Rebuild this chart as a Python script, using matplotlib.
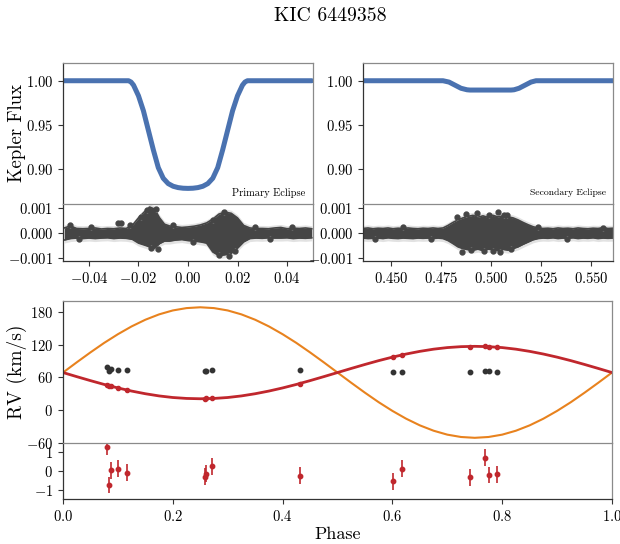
import matplotlib
matplotlib.use('Agg')
import matplotlib.pyplot as plt
from matplotlib.ticker import FormatStrFormatter

plt.rcParams['font.family'] = 'serif'
plt.rcParams['font.serif'] = ['cmr10']
plt.rcParams['mathtext.fontset'] = 'cm'
plt.rcParams['axes.formatter.use_mathtext'] = True
plt.rcParams['axes.unicode_minus'] = True

# ---- eclipse models (phase, flux)
prim_phase = [-0.050, -0.024, -0.023, -0.022, -0.020, -0.018, -0.016, -0.014, -0.012, -0.010,
              -0.008, -0.006, -0.004, -0.002, 0.000, 0.002, 0.004, 0.006, 0.008, 0.010,
              0.012, 0.014, 0.016, 0.018, 0.020, 0.022, 0.023, 0.024, 0.050]
prim_flux = [1.000, 1.000, 0.9985, 0.995, 0.983, 0.966, 0.944, 0.922, 0.902, 0.890,
             0.884, 0.881, 0.8795, 0.8788, 0.8786, 0.8788, 0.8795, 0.881, 0.884, 0.890,
             0.902, 0.922, 0.944, 0.966, 0.983, 0.995, 0.9985, 1.000, 1.000]

sec_phase = [0.436, 0.476, 0.479, 0.482, 0.485, 0.488, 0.4895, 0.510, 0.5115, 0.514,
             0.517, 0.520, 0.5225, 0.561]
sec_flux = [1.000, 1.000, 0.9985, 0.995, 0.9915, 0.9898, 0.9895, 0.9895, 0.9898, 0.9915,
            0.995, 0.9985, 1.000, 1.000]

# ---- residual envelopes (units of 1e-3)
pres_phase = [-0.050, -0.0475, -0.045, -0.0425, -0.040, -0.0375, -0.035, -0.0325, -0.030, -0.0275,
              -0.025, -0.0225, -0.020, -0.0175, -0.0155, -0.0135, -0.0115, -0.0095, -0.0075, -0.005,
              -0.0025, 0.000, 0.0025, 0.005, 0.0075, 0.010, 0.0125, 0.015, 0.0175, 0.020,
              0.0225, 0.025, 0.0275, 0.030, 0.0325, 0.035, 0.0375, 0.040, 0.0425, 0.045,
              0.0475, 0.050]
pres_hi = [0.20, 0.28, 0.18, 0.17, 0.18, 0.20, 0.16, 0.18, 0.17, 0.20,
           0.18, 0.30, 0.60, 0.85, 1.03, 0.95, 0.60, 0.35, 0.28, 0.25,
           0.22, 0.24, 0.27, 0.32, 0.40, 0.55, 0.75, 0.83, 0.78, 0.60,
           0.30, 0.20, 0.18, 0.18, 0.17, 0.20, 0.22, 0.17, 0.19, 0.18,
           0.20, 0.17]
pres_lo = [-0.28, -0.22, -0.20, -0.22, -0.20, -0.22, -0.20, -0.19, -0.22, -0.20,
           -0.21, -0.25, -0.40, -0.48, -0.55, -0.60, -0.42, -0.32, -0.32, -0.28,
           -0.26, -0.30, -0.32, -0.35, -0.40, -0.75, -0.90, -0.86, -0.80, -0.60,
           -0.35, -0.22, -0.20, -0.21, -0.19, -0.20, -0.20, -0.19, -0.22, -0.20,
           -0.21, -0.19]
pres_out_x = [-0.0475, -0.0440, -0.0390, -0.0284, -0.0272, -0.0236, -0.0190, -0.0165, -0.0150,
              -0.0128, -0.0122, -0.0060, 0.0020, 0.0100, 0.0125, 0.0145, 0.0165, 0.0190,
              0.0270, 0.0330, 0.0420]
pres_out_y = [0.30, -0.25, 0.24, 0.40, 0.40, 0.30, 0.65, 0.92, -0.58, 0.95, -0.65, 0.30, -0.34,
              0.50, -0.88, 0.85, -0.92, -0.70, 0.23, -0.24, 0.24]

sres_phase = [0.436, 0.4385, 0.441, 0.4435, 0.446, 0.4485, 0.451, 0.4535, 0.456, 0.4585,
              0.461, 0.4635, 0.466, 0.4685, 0.471, 0.4735, 0.476, 0.4785, 0.481, 0.4835,
              0.486, 0.4885, 0.491, 0.4935, 0.496, 0.4985, 0.501, 0.5035, 0.506, 0.5085,
              0.511, 0.5135, 0.516, 0.5185, 0.521, 0.5235, 0.526, 0.5285, 0.531, 0.5335,
              0.536, 0.5385, 0.541, 0.5435, 0.546, 0.5485, 0.551, 0.5535, 0.556, 0.5585,
              0.561]
sres_hi = [0.18, 0.20, 0.17, 0.19, 0.18, 0.20, 0.17, 0.19, 0.18, 0.20,
           0.18, 0.17, 0.19, 0.18, 0.20, 0.18, 0.20, 0.30, 0.42, 0.52,
           0.60, 0.66, 0.70, 0.63, 0.68, 0.62, 0.70, 0.64, 0.68, 0.64,
           0.60, 0.52, 0.42, 0.33, 0.25, 0.20, 0.18, 0.19, 0.17, 0.20,
           0.18, 0.19, 0.17, 0.20, 0.18, 0.17, 0.19, 0.18, 0.21, 0.18,
           0.19]
sres_lo = [-0.20, -0.22, -0.21, -0.20, -0.22, -0.19, -0.21, -0.22, -0.20, -0.21,
           -0.22, -0.20, -0.21, -0.20, -0.22, -0.20, -0.22, -0.30, -0.42, -0.55,
           -0.62, -0.66, -0.68, -0.64, -0.70, -0.64, -0.66, -0.70, -0.65, -0.68,
           -0.62, -0.55, -0.45, -0.36, -0.27, -0.22, -0.20, -0.21, -0.19, -0.22,
           -0.20, -0.21, -0.19, -0.22, -0.20, -0.21, -0.19, -0.22, -0.20, -0.21,
           -0.20]
sres_out_x = [0.4420, 0.4560, 0.4700, 0.4830, 0.4855, 0.4875, 0.4900, 0.4930, 0.4965, 0.4990,
              0.5010, 0.5035, 0.5045, 0.5065, 0.5080, 0.5100, 0.5233, 0.5380, 0.5560]
sres_out_y = [-0.24, 0.23, -0.25, 0.62, -0.75, 0.75, -0.68, 0.80, -0.72, 0.72,
              -0.70, 0.85, -0.75, 0.70, 0.72, -0.65, 0.25, -0.24, 0.20]
res_err = 0.12

# ---- radial velocities
rv_phase = [0.0793, 0.0836, 0.0872, 0.1009, 0.1160, 0.2580, 0.2600, 0.2716, 0.4308,
            0.6016, 0.6174, 0.7420, 0.7695, 0.7760, 0.7900]
rv_a = [47.0, 44.5, 44.5, 40.8, 37.1, 21.0, 21.6, 21.8, 48.2, 97.1, 100.8, 116.3, 117.2, 116.3, 115.0]
rv_a_res = [1.29, -0.75, 0.04, 0.12, -0.09, -0.30, -0.14, 0.25, -0.25, -0.55, 0.12, -0.34, 0.71, -0.21, -0.18]
rv_err = 0.45
rv_b = [78.5, 72.4, 75.4, 73.6, 73.6, 72.4, 72.4, 73.6, 74.2, 69.9, 70.5, 70.5, 71.1, 71.7, 69.9]

model_phase = [0.000, 0.025, 0.050, 0.075, 0.100, 0.125, 0.150, 0.175, 0.200, 0.225,
               0.250, 0.275, 0.300, 0.325, 0.350, 0.375, 0.400, 0.425, 0.450, 0.475,
               0.500, 0.525, 0.550, 0.575, 0.600, 0.625, 0.650, 0.675, 0.700, 0.725,
               0.750, 0.775, 0.800, 0.825, 0.850, 0.875, 0.900, 0.925, 0.950, 0.975,
               1.000]
model_a = [69.0, 61.5, 54.2, 47.2, 40.8, 35.1, 30.2, 26.2, 23.3, 21.6,
           21.0, 21.6, 23.3, 26.2, 30.2, 35.1, 40.8, 47.2, 54.2, 61.5,
           69.0, 76.5, 83.8, 90.8, 97.2, 102.9, 107.8, 111.8, 114.7, 116.4,
           117.0, 116.4, 114.7, 111.8, 107.8, 102.9, 97.2, 90.8, 83.8, 76.5,
           69.0]
model_b = [69.0, 87.7, 105.9, 123.3, 139.2, 153.5, 165.7, 175.5, 182.7, 187.0,
           188.5, 187.0, 182.7, 175.5, 165.7, 153.5, 139.2, 123.3, 105.9, 87.7,
           69.0, 50.3, 32.1, 14.7, -1.2, -15.5, -27.7, -37.5, -44.7, -49.0,
           -50.5, -49.0, -44.7, -37.5, -27.7, -15.5, -1.2, 14.7, 32.1, 50.3,
           69.0]

blue = '#4a72b0'
red = '#c0272d'
orange = '#e8821e'
dark = '#454545'
sep = '#8a8a8a'

W, H = 620.0, 544.0


def box(x0, x1, y0, y1):
    return [x0 / W, 1 - y1 / H, (x1 - x0) / W, (y1 - y0) / H]


def style(ax):
    for s in ['top', 'right']:
        ax.spines[s].set_color(sep)
    for s in ['left', 'bottom']:
        ax.spines[s].set_color('#333333')
    for s in ax.spines.values():
        s.set_linewidth(0.9)
    ax.tick_params(direction='out', length=3.5, width=0.8, labelsize=10.5, color='#333333',
                   top=False, right=False)


def residual_band(ax, ph, hi, lo, ox, oy):
    hi_s = [v * 1e-3 for v in hi]
    lo_s = [v * 1e-3 for v in lo]
    ax.fill_between(ph, [v + res_err * 1e-3 for v in hi_s], [v - res_err * 1e-3 for v in lo_s],
                    color='#e2e2e2', lw=0)
    ax.fill_between(ph, hi_s, lo_s, color=dark, lw=0)
    ax.plot(ph, hi_s, color=dark, lw=1.2)
    ax.plot(ph, lo_s, color=dark, lw=1.2)
    ax.errorbar(ox, [v * 1e-3 for v in oy], yerr=res_err * 1e-3, fmt='o', color=dark, ms=3.5,
                ecolor='#dcdcdc', elinewidth=1.0, capsize=0)
    ax.set_ylim(-0.00111, 0.00115)
    ax.set_yticks([-0.001, 0.0, 0.001])
    ax.yaxis.set_major_formatter(FormatStrFormatter('$%.3f$'))


fig = plt.figure(figsize=(6.2, 5.44), dpi=100)
fig.text(330 / W, 1 - 16 / H, 'KIC 6449358', ha='center', va='center', fontsize=14.2)

ax1 = fig.add_axes(box(63, 313, 63, 204))
ax1r = fig.add_axes(box(63, 313, 204, 261))
ax2 = fig.add_axes(box(363, 613, 63, 204))
ax2r = fig.add_axes(box(363, 613, 204, 261))
ax3 = fig.add_axes(box(63, 612, 301, 443))
ax3r = fig.add_axes(box(63, 612, 443, 499))

for a in [ax1, ax1r, ax2, ax2r, ax3, ax3r]:
    style(a)
for a in [ax1, ax2, ax3]:
    a.spines['bottom'].set_visible(False)
for a in [ax1r, ax2r, ax3r]:
    a.spines['top'].set_color(sep)

# primary eclipse
ax1.plot(prim_phase, prim_flux, color=blue, lw=3.6, solid_capstyle='round')
ax1.set_xlim(-0.0505, 0.0505)
ax1.set_ylim(0.861, 1.02)
ax1.set_yticks([0.90, 0.95, 1.00])
ax1.yaxis.set_major_formatter(FormatStrFormatter('$%.2f$'))
ax1.set_xticks([])
ax1.text(0.97, 0.08, 'Primary Eclipse', transform=ax1.transAxes, ha='right', va='center', fontsize=7.5)
ax1.set_ylabel('Kepler Flux', fontsize=13.5)
ax1.yaxis.set_label_coords(-0.148, 0.5)

residual_band(ax1r, pres_phase, pres_hi, pres_lo, pres_out_x, pres_out_y)
ax1r.set_xlim(-0.0505, 0.0505)
ax1r.set_xticks([-0.04, -0.02, 0.0, 0.02, 0.04])
ax1r.xaxis.set_major_formatter(FormatStrFormatter('$%.2f$'))

# secondary eclipse
ax2.plot(sec_phase, sec_flux, color=blue, lw=3.6, solid_capstyle='round')
ax2.set_xlim(0.436, 0.561)
ax2.set_ylim(0.861, 1.02)
ax2.set_yticks([0.90, 0.95, 1.00])
ax2.yaxis.set_major_formatter(FormatStrFormatter('$%.2f$'))
ax2.set_xticks([])
ax2.text(0.97, 0.08, 'Secondary Eclipse', transform=ax2.transAxes, ha='right', va='center', fontsize=7)

residual_band(ax2r, sres_phase, sres_hi, sres_lo, sres_out_x, sres_out_y)
ax2r.set_xlim(0.436, 0.561)
ax2r.set_xticks([0.450, 0.475, 0.500, 0.525, 0.550])
ax2r.xaxis.set_major_formatter(FormatStrFormatter('$%.3f$'))

# radial velocities
ax3.plot(model_phase, model_b, color=orange, lw=1.5)
ax3.plot(model_phase, model_a, color=red, lw=2.0)
ax3.errorbar(rv_phase, rv_a, yerr=rv_err, fmt='o', color=red, ms=3, elinewidth=1.0, capsize=0)
ax3.plot(rv_phase, rv_b, 'o', color='#333333', ms=3.2)
ax3.set_xlim(0, 1)
ax3.set_ylim(-60, 200)
ax3.set_yticks([-60, 0, 60, 120, 180])
ax3.yaxis.set_major_formatter(FormatStrFormatter('$%d$'))
ax3.set_xticks([])
ax3.set_ylabel('RV (km/s)', fontsize=14)
ax3.yaxis.set_label_coords(-0.066, 0.5)

ax3r.errorbar(rv_phase, rv_a_res, yerr=rv_err, fmt='o', color=red, ms=3.2, elinewidth=1.2, capsize=0)
ax3r.set_xlim(0, 1)
ax3r.set_ylim(-1.5, 1.5)
ax3r.set_yticks([-1, 0, 1])
ax3r.yaxis.set_major_formatter(FormatStrFormatter('$%d$'))
ax3r.set_xticks([0.0, 0.2, 0.4, 0.6, 0.8, 1.0])
ax3r.xaxis.set_major_formatter(FormatStrFormatter('$%.1f$'))
ax3r.set_xlabel('Phase', fontsize=13, labelpad=2)

fig.savefig('out.png', dpi=100)
